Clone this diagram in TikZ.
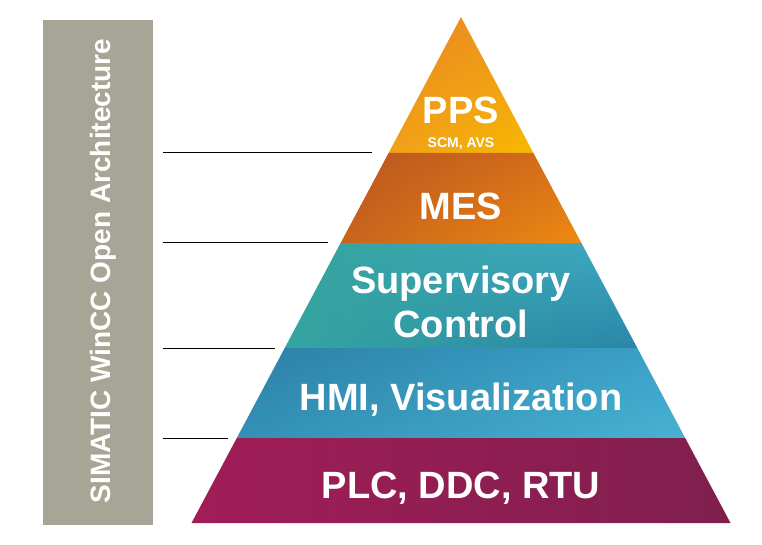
\documentclass[tikz,border=0pt]{standalone}
\usepackage{fontspec}
\setmainfont{Liberation Sans}
\usetikzlibrary{positioning,shadings}
\definecolor{archgray}{HTML}{A7A595}
\definecolor{ppsA}{RGB}{232,135,30}\definecolor{ppsB}{RGB}{238,150,32}
\definecolor{ppsC}{RGB}{240,160,26}\definecolor{ppsD}{RGB}{248,184,0}
\definecolor{mesA}{RGB}{184,85,32}\definecolor{mesB}{RGB}{216,112,26}
\definecolor{mesC}{RGB}{200,100,28}\definecolor{mesD}{RGB}{238,138,16}
\definecolor{supA}{RGB}{54,163,156}\definecolor{supB}{RGB}{62,168,196}
\definecolor{supC}{RGB}{52,165,160}\definecolor{supD}{RGB}{43,133,168}
\definecolor{hmiA}{RGB}{45,127,166}\definecolor{hmiB}{RGB}{59,162,200}
\definecolor{hmiC}{RGB}{51,145,181}\definecolor{hmiD}{RGB}{72,178,210}
\definecolor{plcA}{RGB}{161,29,88}\definecolor{plcB}{RGB}{127,31,77}
\tikzset{layer text/.style={text=white,font=\fontsize{38}{44}\selectfont\bfseries,anchor=base,align=center,inner sep=0pt}}
\tikzset{small text/.style={text=white,font=\fontsize{14}{16}\selectfont\bfseries,anchor=base,inner sep=0pt}}
\tikzset{level line/.style={draw=black,line width=1pt}}

\begin{document}
\begin{tikzpicture}[x=1pt,y=-1pt]
\useasboundingbox (0,0) rectangle (762,545);

%Architecture bar
\fill[archgray] (43,20) rectangle (153,525);
\node[text=white,font=\fontsize{28}{30}\selectfont\bfseries,rotate=90,anchor=base,inner sep=0pt] (arch) at (110,271) {SIMATIC WinCC Open Architecture};

%Layers
\shade[upper left=ppsA,upper right=ppsB,lower left=ppsC,lower right=ppsD]
 (461,17) -- (533.4,153) -- (388.6,153) -- cycle;
\shade[upper left=mesA,upper right=mesB,lower left=mesC,lower right=mesD]
 (388.6,153) -- (533.4,153) -- (581.4,243) -- (340.6,243) -- cycle;
\shade[upper left=supA,upper right=supB,lower left=supC,lower right=supD]
 (340.6,243) -- (581.4,243) -- (637.3,348) -- (284.7,348) -- cycle;
\shade[upper left=hmiA,upper right=hmiB,lower left=hmiC,lower right=hmiD]
 (284.7,348) -- (637.3,348) -- (685.2,438) -- (236.8,438) -- cycle;
\shade[left color=plcA,right color=plcB]
 (236.8,438) -- (685.2,438) -- (730.5,523) -- (191.5,523) -- cycle;

%Labels
\node[layer text] (pps) at (461,124) {PPS};
\node[small text] (scm) at (461,148) {SCM, AVS};
\node[layer text] (mes) at (461,220) {MES};
\node[layer text] (sup) at (461,337) {Supervisory\\Control};
\node[layer text] (hmi) at (461,410) {HMI, Visualization};
\node[layer text] (plc) at (461,498) {PLC, DDC, RTU};

%Level lines
\coordinate (l1s) at (163,153); \coordinate (l1e) at (372,153);
\coordinate (l2s) at (163,242); \coordinate (l2e) at (328,242);
\coordinate (l3s) at (163,348); \coordinate (l3e) at (275,348);
\coordinate (l4s) at (163,438); \coordinate (l4e) at (228,438);
\foreach \i in {1,...,4}
 \draw[level line] (l\i s) -- (l\i e);

\end{tikzpicture}
\end{document}
